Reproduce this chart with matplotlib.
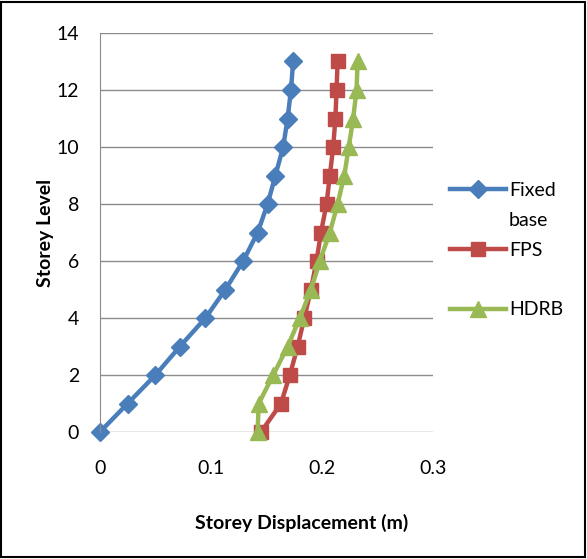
import matplotlib.pyplot as plt
from matplotlib.patches import Rectangle

# Datos
levels = list(range(14))
fixed_base = [0, 0.025, 0.050, 0.072, 0.095, 0.113, 0.129, 0.142, 0.151, 0.158, 0.165, 0.169, 0.172, 0.174]
fps = [0.145, 0.163, 0.171, 0.178, 0.184, 0.190, 0.195, 0.199, 0.204, 0.207, 0.210, 0.212, 0.213, 0.214]
hdrb = [0.142, 0.143, 0.156, 0.169, 0.180, 0.190, 0.198, 0.207, 0.214, 0.220, 0.224, 0.228, 0.231, 0.232]
xticks = [0, 0.1, 0.2, 0.3]
yticks = [0, 2, 4, 6, 8, 10, 12, 14]

plt.rcParams['font.family'] = ['Lato', 'DejaVu Sans']

fig = plt.figure(figsize=(5.87, 5.59), dpi=100, facecolor='white')
ax = fig.add_axes([0.170, 0.227, 0.568, 0.714])

ax.plot(fixed_base, levels, color='#4A7EBB', lw=3.2, marker='D', ms=9, label='Fixed')
ax.plot(fps, levels, color='#BE4B48', lw=3.2, marker='s', ms=10, label='FPS')
ax.plot(hdrb, levels, color='#98B954', lw=3.2, marker='^', ms=11, label='HDRB')

ax.set_xlim(0, 0.3)
ax.set_ylim(0, 14)
ax.set_xticks(xticks)
ax.set_xticklabels(['0', '0.1', '0.2', '0.3'])
ax.set_yticks(yticks)
ax.grid(axis='y', color='#8c8c8c', lw=1)
ax.set_axisbelow(True)
for s in ['top', 'right', 'bottom']:
    ax.spines[s].set_visible(False)
ax.spines['left'].set_color('#8c8c8c')
ax.tick_params(length=0, labelsize=14)
ax.tick_params(axis='x', pad=20)
ax.tick_params(axis='y', pad=15)
for c in ax.get_children():
    c.set_clip_on(False)

ax.set_ylabel('Storey Level', fontsize=14, fontweight='bold', labelpad=2)
fig.text(0.513, 0.053, 'Storey Displacement (m)', fontsize=14, fontweight='bold', ha='center')

# Leyenda
ax.legend(loc='center left', bbox_to_anchor=(1.05, (432 - 250) / 399), frameon=False, fontsize=14,
          handlelength=2.9, labelspacing=2.2, handletextpad=0.15, borderaxespad=0,
          borderpad=0)
fig.text(509 / 587, 1 - 220 / 559, 'base', fontsize=14, va='center', ha='left')

fig.add_artist(Rectangle((0.002, 0.003), 0.994, 0.994, transform=fig.transFigure,
                         fill=False, edgecolor='black', lw=1.5))

plt.savefig('out.png', dpi=100)
